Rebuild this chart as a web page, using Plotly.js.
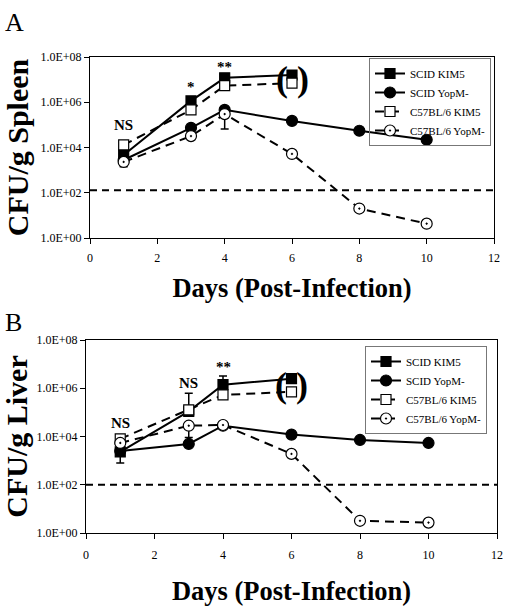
<!DOCTYPE html>
<html>
<head>
<meta charset="utf-8">
<script src="https://cdn.plot.ly/plotly-3.0.1.min.js"></script>
<style>html,body{margin:0;padding:0;background:#fff;}#chart{width:507px;height:606px;}</style>
</head>
<body>
<div id="chart"></div>
<script>
// ---- data ----
const seriesNames = ["SCID KIM5", "SCID YopM-", "C57BL/6 KIM5", "C57BL/6 YopM-"];
const daysKim5 = [1, 3, 4, 6];
const daysYopM = [1, 3, 4, 6, 8, 10];

// Panel A: spleen (CFU/g)
const spleenScidKim5 = [4700, 1.15e6, 1.2e7, 1.6e7];
const spleenC57Kim5 = [1.3e4, 4.6e5, 5.4e6, 7.0e6];
const spleenScidYopM = [2.8e3, 7.4e4, 4.6e5, 1.5e5, 5.5e4, 2.2e4];
const spleenC57YopM = [2.3e3, 3.2e4, 3.0e5, 5.2e3, 20, 4.3];
const spleenC57YopMErrMinus = [900, NaN, 2.34e5, NaN, NaN, NaN];
const spleenThreshold = 130;

// Panel B: liver (CFU/g)
const liverScidKim5 = [2.3e3, 1.1e5, 1.4e6, 2.5e6];
const liverScidKim5ErrPlus = [NaN, NaN, 1.8e6, NaN];
const liverC57Kim5 = [8.0e3, 1.27e5, 5.3e5, 7.1e5];
const liverC57Kim5ErrPlus = [NaN, 5.0e5, NaN, NaN];
const liverScidYopM = [2.5e3, 4.9e3, 2.8e4, 1.2e4, 7.2e3, 5.4e3];
const liverScidYopMErrMinus = [1700, NaN, NaN, NaN, NaN, NaN];
const liverC57YopM = [5.4e3, 2.8e4, 3.0e4, 1.9e3, 3.2, 2.7];
const liverC57YopMErrMinus = [NaN, 1.9e4, NaN, NaN, NaN, NaN];
const liverThreshold = 100;

const yTickVals = [1, 1e2, 1e4, 1e6, 1e8];
const yTickText = ["1.0E+00", "1.0E+02", "1.0E+04", "1.0E+06", "1.0E+08"];

// significance labels: [day, level (CFU/g), text]
const spleenSig = [[1, 1.0e5, "NS"], [3, 4.8e6, "*"], [4, 3.7e7, "**"]];
const liverSig = [[1, 3.6e4, "NS"], [3, 1.66e6, "NS"], [4, 7.8e6, "**"]];
// ---- end data ----

const serif = "Liberation Serif, Times New Roman, serif";
const blk = "#000";

function mk(name, x, y, sym, fill, dash, legend, xa, ya, err) {
  const t = {
    type: "scatter", mode: "lines+markers", name: name, x: x, y: y,
    xaxis: xa, yaxis: ya, legend: legend,
    line: {color: blk, width: 2, dash: dash},
    marker: {symbol: sym, size: sym.indexOf("square") === 0 ? 10 : 11, color: fill, line: {color: blk, width: 1.2}},
    cliponaxis: false
  };
  if (err) {
    t.error_y = Object.assign({type: "data", symmetric: false, color: blk, thickness: 1.5, width: 4}, err);
  }
  return t;
}

function thr(v, xa, ya) {
  return {type: "scatter", mode: "lines", x: [0, 12], y: [v, v], xaxis: xa, yaxis: ya,
    showlegend: false, hoverinfo: "skip", line: {color: blk, width: 2, dash: "7px,5px"}};
}

const dashPat = "9px,6px";
const traces = [
  thr(spleenThreshold, "x", "y"),
  thr(liverThreshold, "x2", "y2"),
  mk(seriesNames[0], daysKim5, spleenScidKim5, "square", blk, "solid", "legend", "x", "y"),
  mk(seriesNames[1], daysYopM, spleenScidYopM, "circle", blk, "solid", "legend", "x", "y"),
  mk(seriesNames[2], daysKim5, spleenC57Kim5, "square", "#fff", dashPat, "legend", "x", "y"),
  mk(seriesNames[3], daysYopM, spleenC57YopM, "circle-dot", "#fff", dashPat, "legend", "x", "y",
     {array: daysYopM.map(() => NaN), arrayminus: spleenC57YopMErrMinus}),
  mk(seriesNames[0], daysKim5, liverScidKim5, "square", blk, "solid", "legend2", "x2", "y2",
     {array: liverScidKim5ErrPlus, arrayminus: daysKim5.map(() => NaN)}),
  mk(seriesNames[1], daysYopM, liverScidYopM, "circle", blk, "solid", "legend2", "x2", "y2",
     {array: daysYopM.map(() => NaN), arrayminus: liverScidYopMErrMinus}),
  mk(seriesNames[2], daysKim5, liverC57Kim5, "square", "#fff", dashPat, "legend2", "x2", "y2",
     {array: liverC57Kim5ErrPlus, arrayminus: daysKim5.map(() => NaN)}),
  mk(seriesNames[3], daysYopM, liverC57YopM, "circle-dot", "#fff", dashPat, "legend2", "x2", "y2",
     {array: daysYopM.map(() => NaN), arrayminus: liverC57YopMErrMinus})
];

function xax(domain, anchor, labelOff, titleOff) {
  return {domain: domain, anchor: anchor, range: [0, 12], tick0: 0, dtick: 2,
    ticks: "outside", ticklen: 5, tickcolor: blk, showgrid: false, zeroline: false,
    showline: true, linecolor: blk, linewidth: 1, mirror: true, ticklabelstandoff: labelOff,
    tickfont: {family: serif, size: 12, color: blk},
    title: {text: "<b>Days (Post-Infection)</b>", font: {family: serif, size: 26.5, color: blk}, standoff: titleOff}};
}
function yax(domain, anchor, title) {
  return {domain: domain, anchor: anchor, type: "log", range: [0, 8],
    tickvals: yTickVals, ticktext: yTickText,
    ticks: "outside", ticklen: 5, tickcolor: blk, showgrid: false, zeroline: false,
    showline: true, linecolor: blk, linewidth: 1, mirror: true,
    tickfont: {family: serif, size: 12, color: blk},
    title: {text: "<b>" + title + "</b>", font: {family: serif, size: 30, color: blk}, standoff: 2}};
}

const ann = [];
spleenSig.forEach(s => ann.push({xref: "x", yref: "y", x: s[0], y: Math.log10(s[1]), text: "<b>" + s[2] + "</b>",
  showarrow: false, font: {family: serif, size: 15, color: blk}}));
liverSig.forEach(s => ann.push({xref: "x2", yref: "y2", x: s[0], y: Math.log10(s[1]), text: "<b>" + s[2] + "</b>",
  showarrow: false, font: {family: serif, size: 15, color: blk}}));
// parentheses around day-6 KIM5 points
[["x", "y", spleenScidKim5[3], spleenC57Kim5[3]], ["x2", "y2", liverScidKim5[3], liverC57Kim5[3]]].forEach(p => {
  const yc = (Math.log10(p[2]) + Math.log10(p[3])) / 2;
  ann.push({xref: p[0], yref: p[1], x: daysKim5[3] - 0.3, y: yc, text: "<b>(</b>", showarrow: false,
    font: {family: serif, size: 36, color: blk}});
  ann.push({xref: p[0], yref: p[1], x: daysKim5[3] + 0.32, y: yc, text: "<b>)</b>", showarrow: false,
    font: {family: serif, size: 36, color: blk}});
});
ann.push({xref: "paper", yref: "paper", x: 0.006, y: 0.99, xanchor: "left", yanchor: "top", text: "A",
  showarrow: false, font: {family: serif, size: 26, color: blk}});
ann.push({xref: "paper", yref: "paper", x: 0.006, y: 0.495, xanchor: "left", yanchor: "top", text: "B",
  showarrow: false, font: {family: serif, size: 26, color: blk}});

const legBase = {xanchor: "left", yanchor: "top", bgcolor: "rgba(255,255,255,0)", bordercolor: "#777", borderwidth: 1,
  font: {family: serif, size: 11, color: blk}, itemwidth: 30, tracegroupgap: 0};

const layout = {
  width: 507, height: 606,
  margin: {l: 0, r: 0, t: 0, b: 0},
  paper_bgcolor: "#fff", plot_bgcolor: "#fff",
  showlegend: true,
  xaxis: xax([90 / 507, 494 / 507], "y", 4, 14),
  yaxis: yax([1 - 238 / 606, 1 - 57 / 606], "x", "CFU/g Spleen"),
  xaxis2: xax([86 / 507, 497 / 507], "y2", 6, 26),
  yaxis2: yax([1 - 533 / 606, 1 - 340 / 606], "x2", "CFU/g Liver"),
  legend: Object.assign({x: 369 / 507, y: 1 - 58 / 606}, legBase),
  legend2: Object.assign({x: 365 / 507, y: 1 - 346 / 606}, legBase),
  annotations: ann
};

Plotly.newPlot("chart", traces, layout, {displayModeBar: false, staticPlot: true});
</script>
</body>
</html>
